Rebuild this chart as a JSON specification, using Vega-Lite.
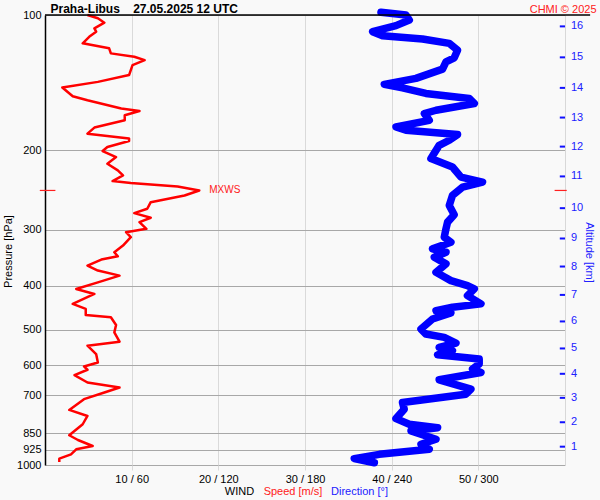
{
  "$schema": "https://vega.github.io/schema/vega-lite/v6.json",
  "width": 520,
  "height": 450,
  "autosize": {"type": "none"},
  "padding": {"left": 45, "top": 15, "right": 35, "bottom": 35},
  "background": "#f9f9f9",
  "config": {
    "view": {"stroke": null},
    "font": "Liberation Sans",
    "axis": {"labelFont": "Liberation Sans", "titleFont": "Liberation Sans"}
  },
  "datasets": {
    "speed": [
      {"p": 100, "s": 4.9}, {"p": 101.7, "s": 6.1}, {"p": 104.0, "s": 6.85}, {"p": 107.1, "s": 5.7},
      {"p": 108.9, "s": 5.9}, {"p": 111.8, "s": 5.1}, {"p": 115.6, "s": 4.35}, {"p": 118.6, "s": 7.4},
      {"p": 121.7, "s": 7.6}, {"p": 123.8, "s": 10.3}, {"p": 126.0, "s": 11.5}, {"p": 129.2, "s": 10.1},
      {"p": 136.0, "s": 9.7}, {"p": 140.8, "s": 6.1}, {"p": 144.9, "s": 2.0}, {"p": 151.5, "s": 3.2},
      {"p": 154.7, "s": 4.9}, {"p": 161.4, "s": 8.8}, {"p": 163.4, "s": 10.9}, {"p": 167.0, "s": 9.2},
      {"p": 171.4, "s": 9.2}, {"p": 177.9, "s": 5.7}, {"p": 183.5, "s": 4.9}, {"p": 188.2, "s": 9.7},
      {"p": 190.6, "s": 9.7}, {"p": 196.5, "s": 7.2}, {"p": 200.6, "s": 6.65}, {"p": 206.9, "s": 8.2},
      {"p": 214.0, "s": 7.2}, {"p": 221.4, "s": 8.4}, {"p": 227.2, "s": 9.0}, {"p": 233.9, "s": 7.8},
      {"p": 236.3, "s": 9.9}, {"p": 240.4, "s": 15.3}, {"p": 245.4, "s": 17.8}, {"p": 251.8, "s": 16.1},
      {"p": 260.6, "s": 12.2}, {"p": 269.5, "s": 11.8}, {"p": 275.6, "s": 10.3}, {"p": 282.2, "s": 12.2},
      {"p": 288.6, "s": 10.9}, {"p": 298.6, "s": 11.7}, {"p": 303.8, "s": 9.35}, {"p": 311.7, "s": 9.9},
      {"p": 325.3, "s": 9.0}, {"p": 336.7, "s": 8.0}, {"p": 343.6, "s": 8.4}, {"p": 349.5, "s": 6.5},
      {"p": 360.5, "s": 4.9}, {"p": 369.8, "s": 6.1}, {"p": 379.4, "s": 8.6}, {"p": 392.7, "s": 6.1},
      {"p": 406.2, "s": 3.6}, {"p": 416.8, "s": 5.7}, {"p": 438.5, "s": 3.2}, {"p": 449.9, "s": 4.7},
      {"p": 464.0, "s": 4.7}, {"p": 469.7, "s": 7.6}, {"p": 488.4, "s": 8.2}, {"p": 507.3, "s": 8.0},
      {"p": 532.1, "s": 8.6}, {"p": 543.1, "s": 4.9}, {"p": 566.8, "s": 5.9}, {"p": 591.8, "s": 6.1},
      {"p": 604.0, "s": 4.5}, {"p": 614.3, "s": 4.9}, {"p": 631.3, "s": 3.4}, {"p": 655.7, "s": 4.9},
      {"p": 672.7, "s": 8.6}, {"p": 690.2, "s": 6.85}, {"p": 714.0, "s": 4.5}, {"p": 754.3, "s": 2.8},
      {"p": 778.0, "s": 4.9}, {"p": 811.8, "s": 4.35}, {"p": 858.9, "s": 2.8}, {"p": 879.9, "s": 3.8},
      {"p": 907.4, "s": 5.5}, {"p": 922.9, "s": 3.6}, {"p": 946.9, "s": 3.0}, {"p": 968.2, "s": 1.65},
      {"p": 984.7, "s": 1.65}
    ],
    "dir": [
      {"p": 98.6, "d": 232.6}, {"p": 100, "d": 249.9}, {"p": 102.6, "d": 252.2}, {"p": 105.6, "d": 243.0},
      {"p": 108.9, "d": 226.8}, {"p": 111.2, "d": 233.7}, {"p": 113.1, "d": 261.4}, {"p": 115.6, "d": 279.9},
      {"p": 119.7, "d": 285.6}, {"p": 124.5, "d": 283.3}, {"p": 127.1, "d": 277.6}, {"p": 131.9, "d": 275.2},
      {"p": 138.3, "d": 256.8}, {"p": 142.6, "d": 234.9}, {"p": 145.2, "d": 247.5}, {"p": 149.4, "d": 263.7},
      {"p": 153.3, "d": 293.7}, {"p": 157.3, "d": 297.2}, {"p": 162.8, "d": 270.7}, {"p": 165.6, "d": 262.6},
      {"p": 171.4, "d": 266.0}, {"p": 177.4, "d": 243.0}, {"p": 180.3, "d": 249.9}, {"p": 184.4, "d": 285.6},
      {"p": 189.8, "d": 279.9}, {"p": 194.8, "d": 272.9}, {"p": 208.5, "d": 267.2}, {"p": 217.7, "d": 282.1},
      {"p": 229.2, "d": 288.0}, {"p": 235.1, "d": 302.9}, {"p": 241.3, "d": 289.1}, {"p": 251.8, "d": 282.1},
      {"p": 264.9, "d": 279.9}, {"p": 277.9, "d": 283.3}, {"p": 288.6, "d": 278.7}, {"p": 298.6, "d": 277.6},
      {"p": 311.7, "d": 276.4}, {"p": 319.8, "d": 281.0}, {"p": 330.9, "d": 268.3}, {"p": 336.7, "d": 277.6},
      {"p": 345.4, "d": 269.5}, {"p": 357.3, "d": 277.6}, {"p": 373.0, "d": 270.7}, {"p": 389.3, "d": 281.0},
      {"p": 399.5, "d": 292.5}, {"p": 406.2, "d": 297.2}, {"p": 420.4, "d": 292.5}, {"p": 438.5, "d": 301.8},
      {"p": 446.2, "d": 282.1}, {"p": 453.9, "d": 270.7}, {"p": 459.3, "d": 281.0}, {"p": 473.7, "d": 268.3},
      {"p": 498.7, "d": 260.3}, {"p": 511.6, "d": 263.7}, {"p": 520.6, "d": 276.4}, {"p": 535.8, "d": 284.5},
      {"p": 548.0, "d": 272.9}, {"p": 557.4, "d": 282.1}, {"p": 568.9, "d": 271.8}, {"p": 581.6, "d": 300.6},
      {"p": 596.6, "d": 300.6}, {"p": 612.1, "d": 296.0}, {"p": 622.9, "d": 301.8}, {"p": 646.7, "d": 272.9},
      {"p": 678.3, "d": 294.9}, {"p": 696.0, "d": 291.4}, {"p": 726.5, "d": 247.5}, {"p": 751.6, "d": 248.7},
      {"p": 788.6, "d": 243.0}, {"p": 811.8, "d": 252.2}, {"p": 826.1, "d": 271.8}, {"p": 840.2, "d": 253.4},
      {"p": 876.8, "d": 270.7}, {"p": 899.5, "d": 260.3}, {"p": 922.9, "d": 266.0}, {"p": 946.9, "d": 231.4},
      {"p": 968.2, "d": 214.1}, {"p": 988.3, "d": 228.0}
    ],
    "alt": [
      {"km": 16, "p": 106.0}, {"km": 15, "p": 124.2}, {"km": 14, "p": 145.2}, {"km": 13, "p": 169.0},
      {"km": 12, "p": 196.1}, {"km": 11, "p": 228.4}, {"km": 10, "p": 268.7}, {"km": 9, "p": 313.8},
      {"km": 8, "p": 362.2}, {"km": 7, "p": 418.8}, {"km": 6, "p": 479.7}, {"km": 5, "p": 550.8},
      {"km": 4, "p": 627.1}, {"km": 3, "p": 709.2}, {"km": 2, "p": 803.5}, {"km": 1, "p": 910.5}
    ],
    "mxws": [{"label": "MXWS", "p": 245.4, "s": 17.8}]
  },
  "resolve": {"scale": {"x": "independent"}, "axis": {"x": "independent", "y": "independent"}},
  "layer": [
    {
      "data": {"name": "speed"},
      "mark": {"type": "line", "color": "#ff0000", "strokeWidth": 2.5, "strokeJoin": "round"},
      "encoding": {
        "x": {
          "field": "s", "type": "quantitative",
          "scale": {"domain": [0, 60], "nice": false, "zero": false},
          "axis": {
            "orient": "bottom", "values": [10, 20, 30, 40, 50],
            "labelExpr": "datum.value + ' / ' + (datum.value * 6)",
            "grid": true, "gridColor": "#dadada", "gridWidth": 1,
            "domain": false, "tickSize": 5, "tickColor": "#dadada",
            "labelPadding": 3, "labelFontSize": 11, "labelColor": "#000000",
            "title": "WIND", "titleFontSize": 11, "titleFontWeight": "normal", "titleColor": "#000000",
            "titleX": 194, "titleY": 26, "titleAlign": "center", "titleBaseline": "middle", "titleAnchor": null
          }
        },
        "y": {
          "field": "p", "type": "quantitative",
          "scale": {"type": "log", "domain": [100, 1000], "reverse": true, "nice": false},
          "axis": {
            "orient": "left", "values": [100, 200, 300, 400, 500, 600, 700, 850, 925, 1000],
            "format": "d",
            "grid": true, "gridColor": "#a8a8a8", "gridWidth": 1,
            "domain": true, "domainColor": "#000000", "domainWidth": 1.5,
            "tickSize": 0, "labelPadding": 4, "labelFontSize": 11, "labelColor": "#000000",
            "title": "Pressure [hPa]", "titleFontSize": 11, "titleFontWeight": "normal", "titleColor": "#000000",
            "titleX": -37, "titleY": 236, "titleAlign": "center", "titleBaseline": "middle", "titleAngle": 270, "titleAnchor": null
          }
        },
        "order": {"field": "p", "type": "quantitative"}
      }
    },
    {
      "data": {"name": "dir"},
      "mark": {"type": "line", "color": "#0000ff", "strokeWidth": 7.5, "strokeJoin": "round", "strokeCap": "round"},
      "encoding": {
        "x": {
          "field": "d", "type": "quantitative",
          "scale": {"domain": [0, 360], "nice": false, "zero": false},
          "axis": {
            "orient": "bottom", "labels": false, "ticks": false, "domain": false, "grid": false,
            "title": "Direction [°]", "titleFontSize": 11, "titleFontWeight": "normal", "titleColor": "#2020ff",
            "titleX": 314, "titleY": 26, "titleAlign": "center", "titleBaseline": "middle", "titleAnchor": null
          }
        },
        "y": {
          "field": "p", "type": "quantitative",
          "scale": {"type": "log", "domain": [100, 1000], "reverse": true, "nice": false},
          "axis": null
        },
        "order": {"field": "p", "type": "quantitative"}
      }
    },
    {
      "data": {"values": [{}]},
      "mark": {"type": "rule", "color": "#000000", "strokeWidth": 1.5},
      "encoding": {
        "x": {
          "datum": 0, "type": "quantitative",
          "scale": {"domain": [0, 60], "nice": false, "zero": false},
          "axis": {
            "orient": "top", "labels": false, "ticks": false, "domain": false, "grid": false,
            "title": "CHMI © 2025", "titleFontSize": 11, "titleFontWeight": "normal", "titleColor": "#ff2020",
            "titleX": 551, "titleY": -3, "titleAlign": "right", "titleBaseline": "alphabetic", "titleAnchor": null
          }
        },
        "x2": {"datum": 62.9},
        "y": {
          "datum": 100, "type": "quantitative",
          "scale": {"type": "log", "domain": [100, 1000], "reverse": true, "nice": false},
          "axis": null
        }
      }
    },
    {
      "data": {"name": "mxws"},
      "mark": {"type": "rule", "color": "#ff2020", "strokeWidth": 1.2},
      "encoding": {
        "x": {
          "datum": -0.6, "type": "quantitative",
          "scale": {"domain": [0, 60], "nice": false, "zero": false},
          "axis": {
            "orient": "top", "labels": false, "ticks": false, "domain": false, "grid": false,
            "title": "Praha-Libus\u00a0\u00a0\u00a0\u00a027.05.2025 12 UTC", "titleFontSize": 12, "titleFontWeight": "bold", "titleColor": "#000000",
            "titleX": 5, "titleY": -3, "titleAlign": "left", "titleBaseline": "alphabetic", "titleAnchor": null
          }
        },
        "x2": {"datum": 1.2},
        "y": {"field": "p", "type": "quantitative", "scale": {"type": "log", "domain": [100, 1000], "reverse": true, "nice": false}, "axis": null}
      }
    },
    {
      "data": {"name": "mxws"},
      "mark": {"type": "rule", "color": "#ff2020", "strokeWidth": 1.2},
      "encoding": {
        "x": {"datum": 58.8, "type": "quantitative", "scale": {"domain": [0, 60], "nice": false, "zero": false}, "axis": null},
        "x2": {"datum": 60.2},
        "y": {"field": "p", "type": "quantitative", "scale": {"type": "log", "domain": [100, 1000], "reverse": true, "nice": false}, "axis": null}
      }
    },
    {
      "data": {"name": "mxws"},
      "mark": {"type": "text", "color": "#ff2020", "fontSize": 10, "align": "left", "baseline": "middle", "dx": 10, "font": "Liberation Sans"},
      "encoding": {
        "x": {"field": "s", "type": "quantitative", "scale": {"domain": [0, 60], "nice": false, "zero": false}, "axis": null},
        "y": {"field": "p", "type": "quantitative", "scale": {"type": "log", "domain": [100, 1000], "reverse": true, "nice": false}, "axis": null},
        "text": {"field": "label"}
      }
    },
    {
      "data": {"name": "alt"},
      "mark": {"type": "rule", "color": "#1010ff", "strokeWidth": 2},
      "encoding": {
        "x": {
          "datum": 59.4, "type": "quantitative",
          "scale": {"domain": [0, 60], "nice": false, "zero": false},
          "axis": {
            "orient": "bottom", "labels": false, "ticks": false, "domain": false, "grid": false,
            "title": "Speed [m/s]", "titleFontSize": 11, "titleFontWeight": "normal", "titleColor": "#ff2020",
            "titleX": 247.5, "titleY": 26, "titleAlign": "center", "titleBaseline": "middle", "titleAnchor": null
          }
        },
        "x2": {"datum": 60},
        "y": {
          "field": "p", "type": "quantitative",
          "scale": {"type": "log", "domain": [100, 1000], "reverse": true, "nice": false},
          "axis": {
            "orient": "right", "labels": false, "ticks": false, "grid": false,
            "domain": true, "domainColor": "#d8d8d8", "domainWidth": 1,
            "title": "Altitude [km]", "titleFontSize": 11, "titleFontWeight": "normal", "titleColor": "#2020ff",
            "titleX": 23.5, "titleY": 237, "titleAlign": "center", "titleBaseline": "middle", "titleAngle": 90, "titleAnchor": null
          }
        }
      }
    },
    {
      "data": {"name": "alt"},
      "mark": {"type": "text", "color": "#2020ff", "fontSize": 11, "align": "left", "baseline": "middle", "dx": 6, "font": "Liberation Sans"},
      "encoding": {
        "x": {"datum": 60, "type": "quantitative", "scale": {"domain": [0, 60], "nice": false, "zero": false}, "axis": null},
        "y": {"field": "p", "type": "quantitative", "scale": {"type": "log", "domain": [100, 1000], "reverse": true, "nice": false}, "axis": null},
        "text": {"field": "km", "type": "quantitative"}
      }
    }
  ]
}
